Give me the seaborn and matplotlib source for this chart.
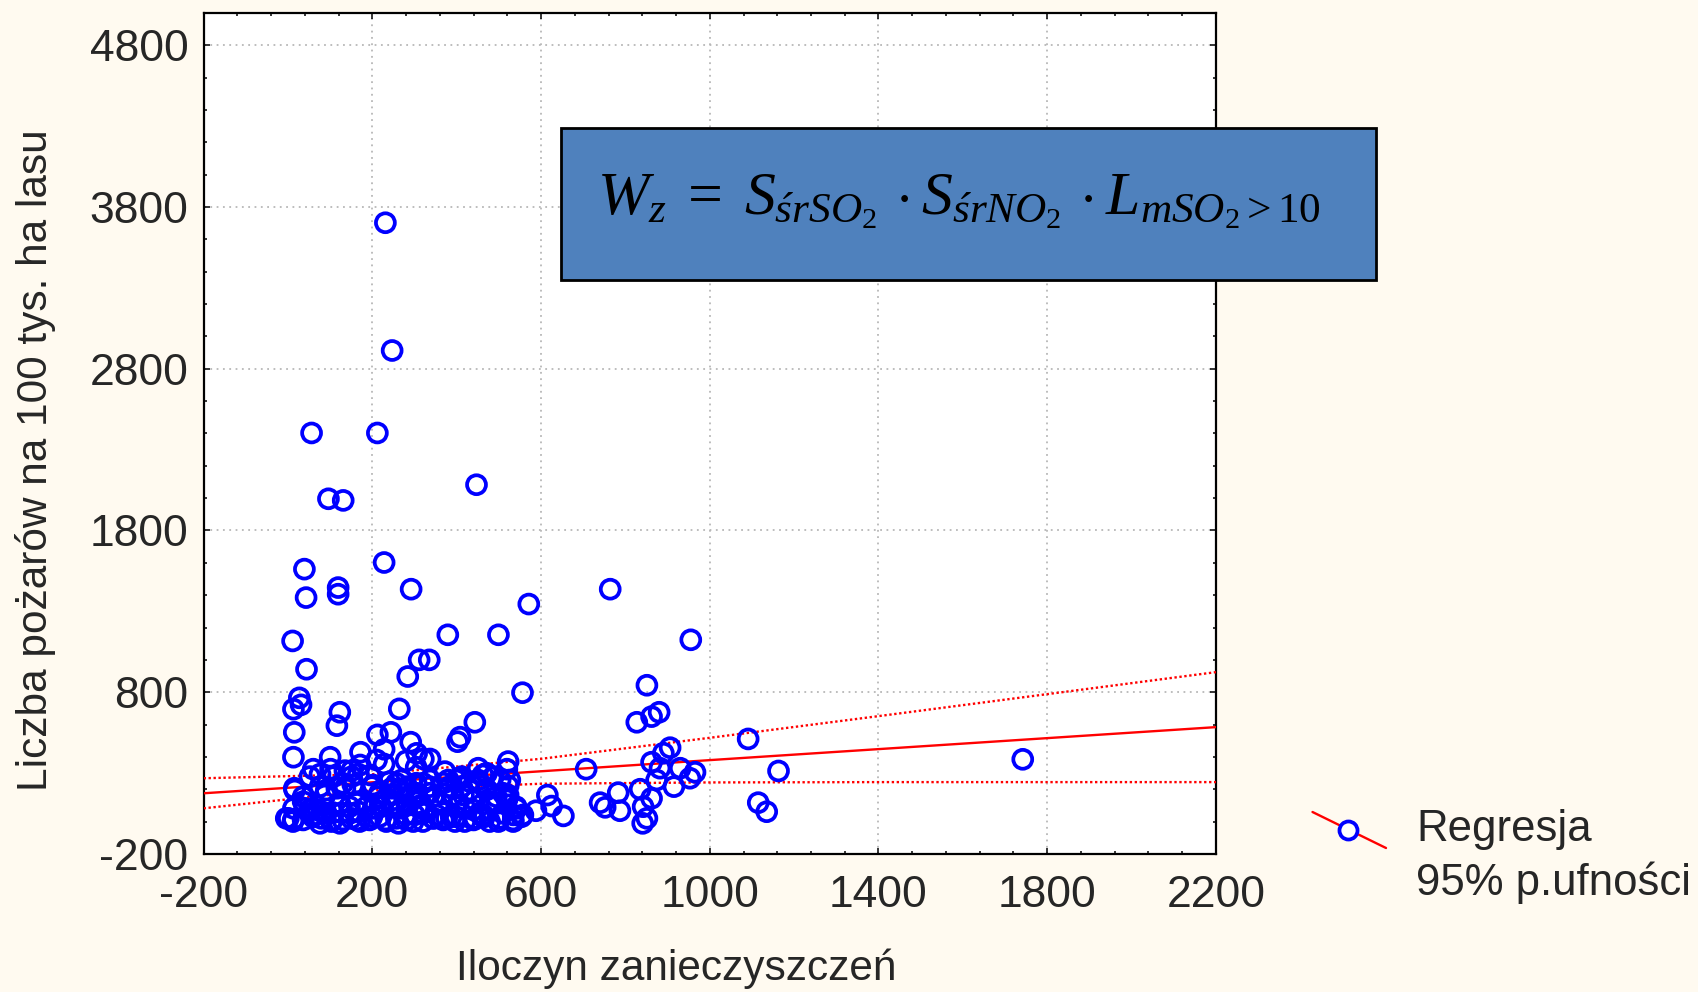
import numpy as np
import matplotlib
matplotlib.use("Agg")
import matplotlib.pyplot as plt
from matplotlib.ticker import AutoMinorLocator
from matplotlib.patches import Rectangle
from matplotlib.lines import Line2D
import seaborn as sns

# ---------------- data ----------------
pts_upper = [
    (231, 3703), (247, 2913), (56, 2403), (212, 2403), (447, 2083), (96, 1996),
    (131, 1986), (228, 1602), (39, 1561), (43, 1385), (119, 1447), (119, 1406),
    (292, 1437), (571, 1345), (764, 1437), (11, 1117), (379, 1155), (499, 1155),
    (955, 1124), (44, 942), (311, 1000), (335, 1000), (284, 897), (851, 843),
    (556, 797), (27, 765), (31, 722), (13, 695), (264, 697), (123, 676),
    (443, 614), (827, 614), (862, 649), (880, 676), (116, 593), (15, 552),
    (212, 536), (244, 552), (408, 522), (402, 494), (1091, 511), (1742, 385),
    (1163, 313), (1115, 117), (1135, 61),
]
pts_right = [
    (906, 457), (890, 423), (862, 367), (882, 330), (930, 330), (965, 305),
    (953, 268), (874, 257), (915, 216), (707, 324), (835, 200), (862, 144),
    (842, 92), (851, 20), (841, -11), (783, 179), (752, 88), (787, 67),
    (740, 117), (653, 35), (615, 164), (625, 96), (588, 67), (554, 30),
]
pts_cluster = [
    (13, 398), (100, 398), (291, 491), (228, 447), (172, 429), (228, 356),
    (210, 381), (305, 422), (321, 387), (337, 387), (280, 375), (304, 336),
    (522, 371), (60, 324), (76, 293), (101, 324), (135, 315), (151, 315),
    (167, 293), (171, 350), (372, 309), (451, 330), (406, 268), (412, 216),
    (451, 257), (471, 200), (503, 257), (522, 220), (522, 164), (519, 144),
    (495, 113), (542, 82), (534, 0), (499, 0), (463, 41), (440, 72),
    (420, 82), (368, 171), (392, 164), (365, 109), (376, 20), (396, 0),
    (321, 51), (317, 103), (305, 175), (280, 41), (282, 103), (254, 103),
    (248, 169), (218, 96), (232, 10), (199, 216), (163, 123), (167, 61),
    (135, 206), (151, 278), (116, 206), (107, 55), (127, 55), (147, 51),
    (104, 10), (80, 61), (76, 216), (88, 164), (36, 10), (13, 14),
    (1, 20), (13, 82), (15, 206), (60, 82), (36, 123), (60, 41),
    (76, -11), (123, -11), (163, 10), (199, 30), (262, -11), (297, 0),
    (440, 10), (345, 20), (214, 154), (52, 278), (36, 154), (108, 278),
    (195, 288), (380, 257), (416, 164), (400, 92), (479, 123), (471, 299),
    (487, 278), (519, 324), (519, 134), (412, 278), (345, 154), (337, 257),
    (266, 195), (282, 216), (246, 206), (293, 154),
]
pts_dense = [
    (431, 247), (462, 288), (454, 237), (526, 257), (470, 195), (16, 195),
    (91, 195), (130, 237), (154, 226), (202, 226), (241, 247), (257, 237),
    (269, 257), (304, 237), (320, 237), (336, 216), (368, 237), (383, 216),
    (399, 257), (217, 175), (245, 164), (273, 175), (304, 154), (336, 175),
    (391, 154), (431, 195), (443, 133), (494, 154), (510, 175), (541, 92),
    (40, 82), (51, 72), (71, 72), (91, 51), (123, 113), (146, 92),
    (162, 113), (186, 92), (202, 82), (221, 92), (249, 102), (269, 82),
    (285, 102), (308, 92), (324, 72), (352, 41), (399, 30), (454, 51),
    (466, 30), (486, 113), (510, 51), (534, 41),
    (-4, 20), (12, 0), (59, 30), (79, 20), (103, 0), (130, 10),
    (150, 20), (170, 0), (194, 10), (217, 30), (233, 0), (257, 20),
    (281, 10), (300, 41), (320, 0), (344, 20), (368, 10), (387, 30),
    (419, 0), (443, 20), (462, 30), (478, 0), (502, 20), (534, 10),
    (557, 41),
]
all_pts = pts_upper + pts_right + pts_cluster + pts_dense
x_vals = np.array([p[0] for p in all_pts], dtype=float)
y_vals = np.array([p[1] for p in all_pts], dtype=float)

# regression line and 95% band at the x tick positions
reg_x = [-200, 200, 600, 1000, 1400, 1800, 2200]
reg_fit = [175, 243, 311, 380, 448, 516, 584]
reg_upper = [268, 293, 388, 518, 652, 788, 924]
reg_lower = [82, 193, 234, 242, 244, 244, 244]

x_ticks = [-200, 200, 600, 1000, 1400, 1800, 2200]
y_ticks = [-200, 800, 1800, 2800, 3800, 4800]
x_lim = (-200, 2200)
y_lim = (-200, 5000)

x_label = "Iloczyn zanieczyszczeń"
y_label = "Liczba pożarów na 100 tys. ha lasu"
legend_lines = ["Regresja", "95% p.ufności"]
formula = r"$W_z\;=\;S_{śrSO_2}\,\cdot S_{śrNO_2}\,\cdot L_{mSO_2>10}$"

# ---------------- style ----------------
sns.set_style("white")
plt.rcParams["font.family"] = ["Liberation Sans", "DejaVu Sans"]
plt.rcParams["axes.unicode_minus"] = False
plt.rcParams["mathtext.fontset"] = "custom"
plt.rcParams["mathtext.rm"] = "Liberation Serif"
plt.rcParams["mathtext.it"] = "Liberation Serif:italic"
plt.rcParams["mathtext.bf"] = "Liberation Serif:bold"

BG = "#FFFAF0"
BLUE = "#0000FF"
RED = "#FF0000"
FS = 30.5
FS_TICK = 32
FS_LEG = 31.5

fig = plt.figure(figsize=(16.98, 9.92), dpi=100, facecolor=BG)
ax = fig.add_axes([0.1199, 0.1392, 0.5962, 0.8477])
ax.set_facecolor("white")

ax.set_xticks(x_ticks)
ax.set_yticks(y_ticks)
ax.grid(True, which="major", color="#b8b8b8", linestyle=(0, (1, 2.5)), linewidth=1.3, zorder=0)
ax.set_axisbelow(True)

# regression line and confidence band
sns.lineplot(x=reg_x, y=reg_fit, ax=ax, color=RED, lw=1.7, zorder=4)
sns.lineplot(x=reg_x, y=reg_upper, ax=ax, color=RED, lw=1.7, linestyle=(0, (1, 1.1)), zorder=4)
sns.lineplot(x=reg_x, y=reg_lower, ax=ax, color=RED, lw=1.7, linestyle=(0, (1, 1.1)), zorder=4)

# scatter points
sns.scatterplot(x=x_vals, y=y_vals, ax=ax, s=185, marker="o", color=BLUE,
                facecolor="none", edgecolor=BLUE, linewidth=2.7, zorder=5)

ax.set_xlim(*x_lim)
ax.set_ylim(*y_lim)

# ticks
ax.xaxis.set_minor_locator(AutoMinorLocator(5))
ax.yaxis.set_minor_locator(AutoMinorLocator(5))
ax.tick_params(which="both", direction="in", top=True, right=True, bottom=True, left=True,
               color="black", width=1.1)
ax.tick_params(which="major", length=4.0)
ax.tick_params(which="minor", length=2.4)
ax.tick_params(axis="x", which="major", pad=15, labelsize=FS_TICK)
ax.tick_params(axis="y", which="major", pad=11, labelsize=FS_TICK)
for sp in ax.spines.values():
    sp.set_visible(True)
    sp.set_color("black")
    sp.set_linewidth(1.6)
ax.set_xlabel("")
ax.set_ylabel("")

# axis labels
fig.text(676 / 1698, 1 - 969 / 992, x_label, ha="center", va="center", fontsize=FS)
fig.text(36 / 1698, 1 - 460 / 992, y_label, ha="center", va="center", rotation=90, fontsize=FS)

# formula box
box = Rectangle((561 / 1698, 1 - 280 / 992), (1376 - 561) / 1698, (280 - 128) / 992,
                transform=fig.transFigure, facecolor="#4F81BD", edgecolor="black",
                linewidth=2.0, zorder=10)
fig.add_artist(box)
fig.text(959 / 1698, 1 - 202 / 992, formula, ha="center", va="center", fontsize=44.5,
         color="black", zorder=11)

# legend (custom glyph: diagonal line with circle)
lx0, ly0, lx1, ly1 = 1312.5 / 1698, 1 - 812 / 992, 1386 / 1698, 1 - 848 / 992
fig.add_artist(Line2D([lx0, lx1], [ly0, ly1], transform=fig.transFigure, color=RED, lw=1.7))
fig.add_artist(Line2D([1348 / 1698], [1 - 829.5 / 992], transform=fig.transFigure,
                      marker="o", markersize=13, markerfacecolor="white",
                      markeredgecolor=BLUE, markeredgewidth=2.7, linestyle="none"))
fig.text(1416 / 1698, 1 - 829.5 / 992, legend_lines[0], ha="left", va="center", fontsize=FS_LEG)
fig.text(1416 / 1698, 1 - 882.5 / 992, legend_lines[1], ha="left", va="center", fontsize=FS_LEG)

fig.savefig("out.png", dpi=100, facecolor=BG)
